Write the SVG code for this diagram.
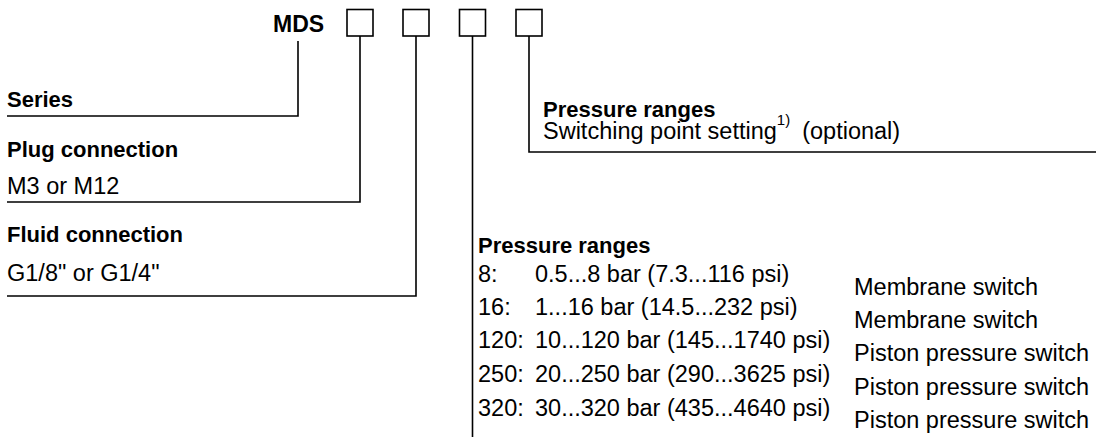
<svg xmlns="http://www.w3.org/2000/svg" width="1098" height="438" viewBox="0 0 1098 438">
<style>
text{font-family:"Liberation Sans",Arial,sans-serif;fill:#000}
.h{font-weight:bold;font-size:22px}
.r{font-size:23.5px}
.ln{fill:none;stroke:#000;stroke-width:1.6}
.box{fill:#fff;stroke:#000;stroke-width:1.6}
</style>
<rect width="1098" height="438" fill="#fff"/>
<g id="code">
<text x="273" y="32" style="font-weight:bold;font-size:23px">MDS</text>
<rect class="box" x="347" y="9.5" width="26" height="26.5"/>
<rect class="box" x="403" y="9.5" width="26" height="26.5"/>
<rect class="box" x="459.5" y="9.5" width="26" height="26.5"/>
<rect class="box" x="516" y="9.5" width="26" height="26.5"/>
</g>
<g id="connectors">
<polyline class="ln" points="298,41 298,116 7,116"/>
<polyline class="ln" points="360,36 360,202 7,202"/>
<polyline class="ln" points="416,36 416,296 7,296"/>
<polyline class="ln" points="472.5,36 472.5,437"/>
<polyline class="ln" points="529,36 529,152 1096,152"/>
</g>
<g id="series">
<text class="h" x="7" y="107">Series</text>
</g>
<g id="plug">
<text class="h" x="7" y="157">Plug connection</text>
<text class="r" x="7" y="194">M3 or M12</text>
</g>
<g id="fluid">
<text class="h" x="7" y="242">Fluid connection</text>
<text class="r" x="7" y="281">G1/8" or G1/4"</text>
</g>
<g id="switching">
<text class="h" x="543" y="117">Pressure ranges</text>
<text class="r" x="543" y="139">Switching point setting<tspan dy="-14" font-size="15">1)</tspan><tspan dy="14" dx="12">(optional)</tspan></text>
</g>
<g id="ranges">
<text class="h" x="478" y="253">Pressure ranges</text>
<text class="r" x="478" y="282">8:</text><text class="r" x="535" y="282">0.5...8 bar (7.3...116 psi)</text>
<text class="r" x="478" y="315">16:</text><text class="r" x="535" y="315">1...16 bar (14.5...232 psi)</text>
<text class="r" x="478" y="348">120:</text><text class="r" x="535" y="348">10...120 bar (145...1740 psi)</text>
<text class="r" x="478" y="382">250:</text><text class="r" x="535" y="382">20...250 bar (290...3625 psi)</text>
<text class="r" x="478" y="416">320:</text><text class="r" x="535" y="416">30...320 bar (435...4640 psi)</text>
<text class="r" x="854" y="295">Membrane switch</text>
<text class="r" x="854" y="328">Membrane switch</text>
<text class="r" x="854" y="361">Piston pressure switch</text>
<text class="r" x="854" y="395">Piston pressure switch</text>
<text class="r" x="854" y="428">Piston pressure switch</text>
</g>
</svg>
